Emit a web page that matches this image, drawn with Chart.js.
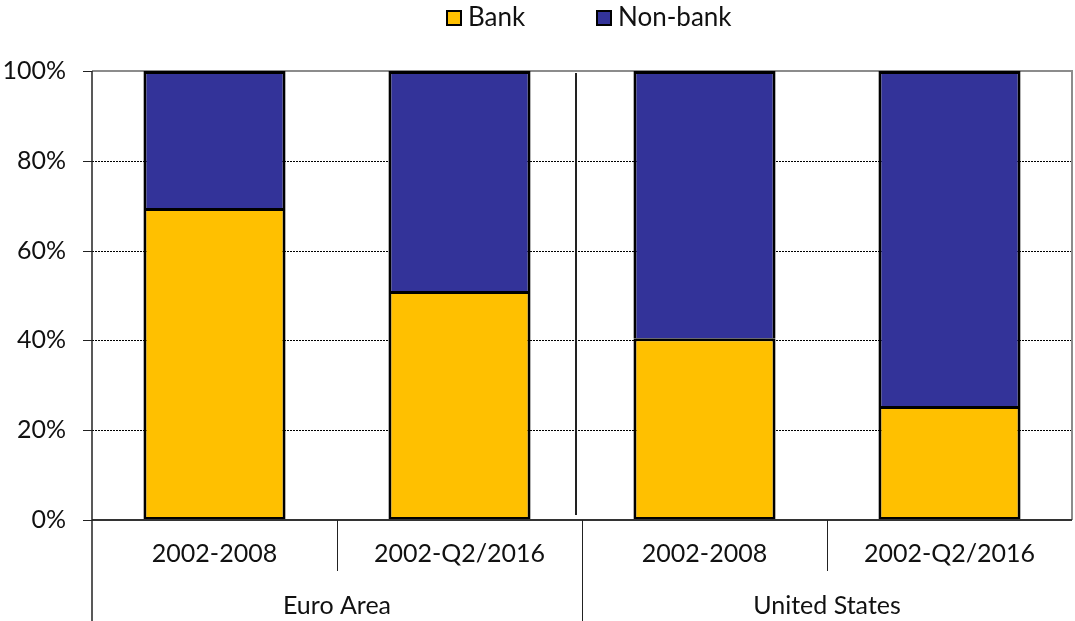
<!DOCTYPE html>
<html>
<head>
<meta charset="utf-8">
<script src="https://cdn.jsdelivr.net/npm/chart.js@4/dist/chart.umd.min.js"></script>
<style>
html,body{margin:0;padding:0;background:#fff;}
#wrap{width:1075px;height:621px;position:relative;}
</style>
</head>
<body>
<div id="wrap"><canvas id="c" width="1075" height="621"></canvas></div>
<script>
const categories = ['2002-2008', '2002-Q2/2016', '2002-2008', '2002-Q2/2016'];
const groups = ['Euro Area', 'United States'];
const groupSizes = [2, 2];
const bankShare = [69.5, 51.0, 40.5, 25.4];
const nonBankShare = [30.5, 49.0, 59.5, 74.6];
const yTicks = [0, 20, 40, 60, 80, 100];

const FONT = 'Lato, "DejaVu Sans", sans-serif';

const customPlugin = {
  id: 'custom',
  beforeDatasetsDraw(chart) {
    const {ctx, chartArea: a, scales: {y}} = chart;
    ctx.save();
    ctx.strokeStyle = '#000';
    ctx.lineWidth = 1;
    ctx.setLineDash([2, 1]);
    yTicks.forEach(v => {
      if (v === 0 || v === 100) return;
      const py = Math.round(y.getPixelForValue(v)) + 0.5;
      ctx.beginPath(); ctx.moveTo(a.left, py); ctx.lineTo(a.right, py); ctx.stroke();
    });
    ctx.setLineDash([]);
    ctx.strokeStyle = '#8c8c8c';
    ctx.lineWidth = 2;
    ctx.beginPath();
    ctx.moveTo(a.left, a.top); ctx.lineTo(a.right, a.top); ctx.lineTo(a.right, a.bottom);
    ctx.stroke();
    ctx.restore();
  },
  afterDraw(chart) {
    const {ctx, chartArea: a, scales: {x, y}} = chart;
    ctx.save();
    ctx.strokeStyle = '#333';
    ctx.lineWidth = 2;
    ctx.beginPath(); ctx.moveTo(a.left, a.bottom); ctx.lineTo(a.right, a.bottom); ctx.stroke();
    ctx.strokeStyle = '#222';
    ctx.lineWidth = 1.5;
    ctx.beginPath(); ctx.moveTo(a.left, a.top); ctx.lineTo(a.left, chart.height); ctx.stroke();
    ctx.lineWidth = 1;
    yTicks.forEach(v => {
      const py = Math.round(y.getPixelForValue(v)) + 0.5;
      ctx.beginPath(); ctx.moveTo(a.left - 9, py); ctx.lineTo(a.left, py); ctx.stroke();
    });
    const step = x.getPixelForValue(1) - x.getPixelForValue(0);
    let idx = 0;
    ctx.strokeStyle = '#222';
    ctx.lineWidth = 1;
    groups.forEach((g, gi) => {
      const start = idx, end = idx + groupSizes[gi] - 1;
      for (let i = start; i < end; i++) {
        const bx = Math.round((x.getPixelForValue(i) + x.getPixelForValue(i + 1)) / 2) + 0.5;
        ctx.beginPath(); ctx.moveTo(bx, a.bottom); ctx.lineTo(bx, a.bottom + 51); ctx.stroke();
      }
      const gx = (x.getPixelForValue(start) + x.getPixelForValue(end)) / 2;
      ctx.fillStyle = '#111';
      ctx.font = '25px ' + FONT;
      ctx.textAlign = 'center';
      ctx.textBaseline = 'middle';
      ctx.fillText(g, gx, 606);
      if (gi < groups.length - 1) {
        const bx = Math.round(x.getPixelForValue(end) + step / 2) + 0.5;
        ctx.beginPath(); ctx.moveTo(bx, a.bottom); ctx.lineTo(bx, chart.height); ctx.stroke();
        ctx.lineWidth = 2;
        ctx.beginPath(); ctx.moveTo(bx - 6.5, a.top + 2); ctx.lineTo(bx - 6.5, a.bottom - 5); ctx.stroke();
        ctx.lineWidth = 1;
      }
      idx += groupSizes[gi];
    });
    const items = chart.data.datasets.map(d => ({label: d.label, color: d.backgroundColor}));
    const positions = [447, 597];
    ctx.font = '26px ' + FONT;
    ctx.textAlign = 'left';
    ctx.textBaseline = 'middle';
    items.forEach((it, i) => {
      const bx = positions[i];
      ctx.fillStyle = it.color;
      ctx.fillRect(bx, 11, 14, 14);
      ctx.strokeStyle = '#000';
      ctx.lineWidth = 2;
      ctx.strokeRect(bx, 11, 14, 14);
      ctx.fillStyle = '#111';
      ctx.fillText(it.label, bx + 21, 18);
    });
    ctx.restore();
  }
};

new Chart(document.getElementById('c'), {
  type: 'bar',
  data: {
    labels: categories,
    datasets: [
      {label: 'Bank', data: bankShare, backgroundColor: '#FFC000', borderColor: '#000', borderWidth: 3, borderSkipped: false},
      {label: 'Non-bank', data: nonBankShare, backgroundColor: '#333399', borderColor: '#000', borderWidth: 3, borderSkipped: 'start'}
    ]
  },
  options: {
    responsive: false,
    animation: false,
    layout: {padding: {top: 71, right: 3, left: 0, bottom: 0}},
    plugins: {legend: {display: false}, tooltip: {enabled: false}},
    datasets: {bar: {barPercentage: 0.58, categoryPercentage: 1.0}},
    scales: {
      x: {
        stacked: true,
        grid: {display: false},
        border: {display: false},
        ticks: {color: '#111', font: {family: FONT, size: 25}, padding: 11, maxRotation: 0},
        afterFit(s) { s.height = 101; }
      },
      y: {
        stacked: true,
        min: 0, max: 100,
        grid: {display: false},
        border: {display: false},
        ticks: {stepSize: 20, color: '#111', font: {family: FONT, size: 25}, padding: 18, callback: v => v + '%'},
        afterFit(s) { s.width = 92; }
      }
    }
  },
  plugins: [customPlugin]
});
</script>
</body>
</html>
